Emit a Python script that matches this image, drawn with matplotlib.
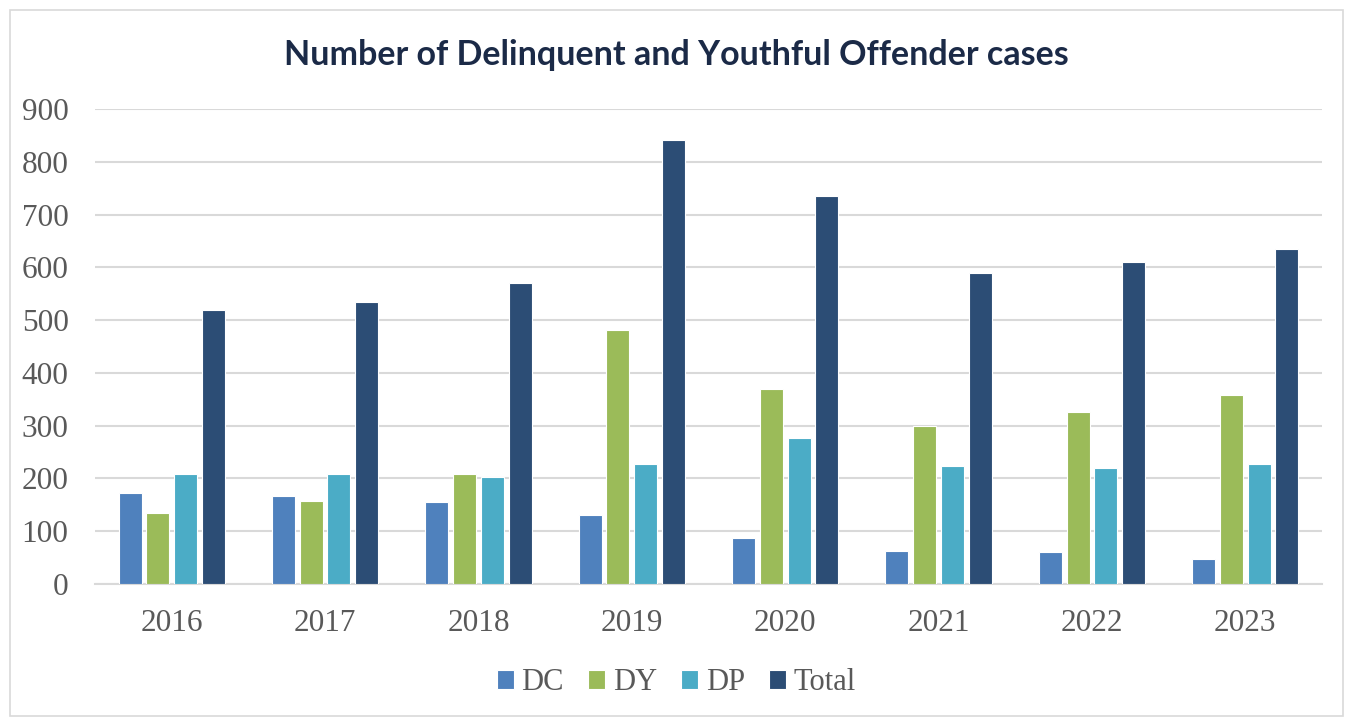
import matplotlib.pyplot as plt
import numpy as np
from matplotlib.patches import Rectangle

years = ['2016', '2017', '2018', '2019', '2020', '2021', '2022', '2023']
dc = [173, 166, 156, 130, 88, 63, 61, 47]
dy = [135, 158, 209, 482, 369, 300, 326, 358]
dp = [209, 208, 203, 228, 277, 224, 220, 228]
total = [520, 535, 570, 841, 735, 589, 610, 635]

series = [('DC', dc, '#4F81BD'), ('DY', dy, '#9BBB59'),
          ('DP', dp, '#4BACC6'), ('Total', total, '#2C4D75')]

fig = plt.figure(figsize=(13.53, 7.19), dpi=100)
ax = fig.add_axes([95 / 1353, 1 - 584 / 719, 1227 / 1353, 475 / 719])

# light border around the whole chart
fig.patches.append(Rectangle((10 / 1353, 3 / 719), 1333 / 1353, 706 / 719,
                             transform=fig.transFigure, fill=False,
                             edgecolor='#D9D9D9', linewidth=1.2))

x = np.arange(len(years))
step = 0.181
for i, (name, vals, col) in enumerate(series):
    ax.bar(x + (i - 1.5) * step, vals, width=0.15, color=col,
           edgecolor='white', linewidth=0.8, label=name, zorder=3)

ax.set_xlim(-0.5, len(years) - 0.5)
ax.set_ylim(0, 900)
ax.set_yticks(range(0, 901, 100))
ax.set_xticks(x)
ax.set_xticklabels(years)
ax.yaxis.grid(True, color='#D9D9D9', linewidth=1.5, zorder=0)
ax.set_axisbelow(True)
for s in ['top', 'right', 'left']:
    ax.spines[s].set_visible(False)
ax.spines['bottom'].set_color('#D9D9D9')
ax.spines['bottom'].set_linewidth(1.5)
ax.tick_params(axis='both', length=0, labelsize=22.5, labelcolor='#595959')
ax.tick_params(axis='x', pad=18)
ax.tick_params(axis='y', pad=19)
for lbl in ax.get_xticklabels() + ax.get_yticklabels():
    lbl.set_fontfamily('Liberation Serif')

fig.text(0.5, 1 - 55 / 719, 'Number of Delinquent and Youthful Offender cases',
         ha='center', va='center', fontsize=24.5, fontweight='bold',
         family='Lato', color='#1B2A47')

leg = fig.legend(loc='center', bbox_to_anchor=(0.5, 1 - 683 / 719), ncol=4,
                 frameon=False, prop={'family': 'Liberation Serif', 'size': 22},
                 handlelength=0.55, handleheight=0.55, handletextpad=0.25,
                 columnspacing=0.8)
for t in leg.get_texts():
    t.set_color('#595959')

plt.savefig('out.png', dpi=100)
